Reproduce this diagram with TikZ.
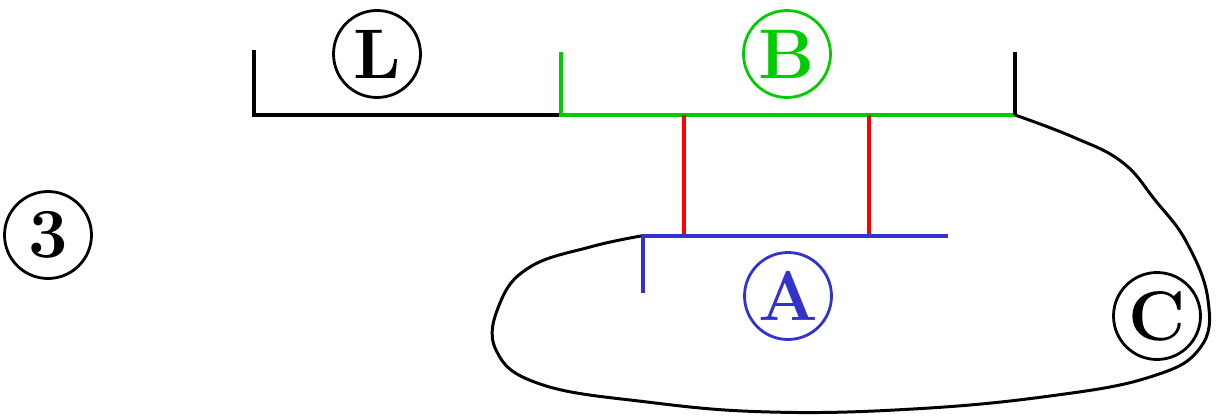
\documentclass[tikz,border=0pt]{standalone}
\definecolor{lgreen}{RGB}{0,204,0}
\definecolor{lblue}{RGB}{51,51,204}
\definecolor{lred}{RGB}{255,0,0}
\tikzset{
  circlabel/.style={circle,draw,line width=1.6pt,minimum size=1.74cm,inner sep=0pt,
    font=\fontsize{40}{40}\selectfont\bfseries},
  barline/.style={line width=2.6pt},
  loopline/.style={line width=1.7pt,black}
}
\begin{document}
\begin{tikzpicture}[x=0.02cm,y=-0.02cm]
\useasboundingbox (0,0) rectangle (1217,419);
% circled labels
\node[circlabel] (n3) at (48,235) {3};
\node[circlabel] (nL) at (377,54) {L};
\node[circlabel,lgreen] (nB) at (787,54) {B};
\node[circlabel,lblue] (nA) at (788,296) {A};
\node[circlabel] (nC) at (1157,316) {C};
% coordinates
\coordinate (l1) at (254,52);
\coordinate (l2) at (254,115);
\coordinate (g0) at (561,115);
\coordinate (g1) at (561,52);
\coordinate (g2) at (1015,115);
\coordinate (k1) at (1015,52);
\coordinate (r1t) at (684,115);
\coordinate (r1b) at (684,236);
\coordinate (r2t) at (869,115);
\coordinate (r2b) at (869,236);
\coordinate (b0) at (643,236);
\coordinate (b1) at (948,236);
\coordinate (b2) at (643,293);
% black bracket
\draw[barline,line cap=rect] (l1) -- (l2) -- (g0);
% green bracket
\draw[barline,lgreen] (g1) -- (g0) -- (g2);
% black right tick
\draw[barline] (k1) -- (g2);
% red connectors
\draw[barline,lred] (r1t) -- (r1b);
\draw[barline,lred] (r2t) -- (r2b);
% blue bracket
\draw[barline,lblue] (b1) -- (b0) -- (b2);
% loop curve
\draw[loopline] plot[smooth,tension=0.7] coordinates {
 (1015,115) (1073,137) (1122,162) (1155,200)
 (1187,243) (1208,300) (1200,348)
 (1150,377) (1050,396) (913,409) (770,412)
 (647,402) (540,384) (496,350) (500,303)
 (530,267) (590,247) (641,236)};
\end{tikzpicture}
\end{document}
